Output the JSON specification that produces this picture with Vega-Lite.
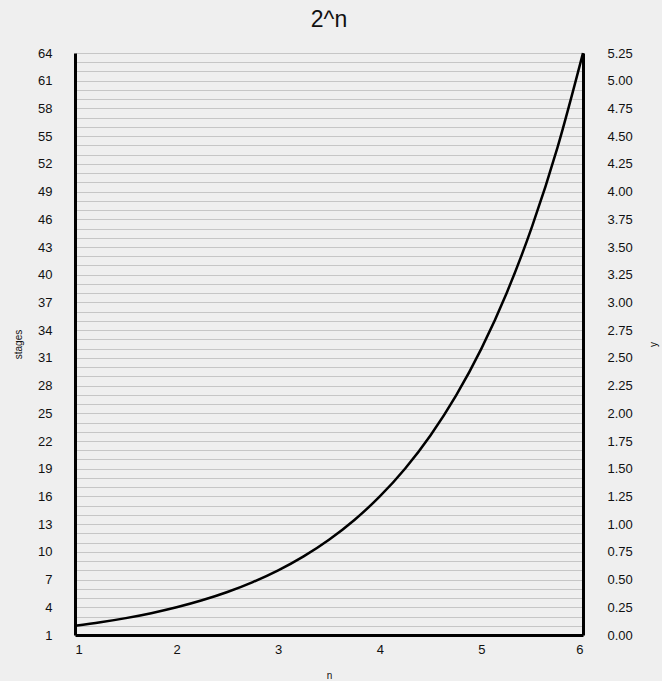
{
  "$schema": "https://vega.github.io/schema/vega-lite/v6.json",
  "width": 508,
  "height": 582,
  "autosize": {"type": "none"},
  "padding": {"left": 75, "top": 53, "right": 79, "bottom": 46},
  "background": "#efefef",
  "config": {
    "view": {"stroke": null},
    "font": "Liberation Sans",
    "axis": {"labelFont": "Liberation Sans", "titleFont": "Liberation Sans", "labelColor": "#111", "titleColor": "#111", "labelFontSize": 13, "titleFontSize": 10, "titleFontWeight": "normal", "ticks": false, "domainColor": "#000", "domainWidth": 3, "labelOverlap": false}
  },
  "title": {"text": "2^n", "fontSize": 23, "fontWeight": "normal", "font": "Liberation Sans", "color": "#111", "offset": 15},
  "datasets": {
    "curve": [
      {"n": 1, "stages": 2},
      {"n": 1.25, "stages": 2.378},
      {"n": 1.5, "stages": 2.828},
      {"n": 1.75, "stages": 3.364},
      {"n": 2, "stages": 4},
      {"n": 2.25, "stages": 4.757},
      {"n": 2.5, "stages": 5.657},
      {"n": 2.75, "stages": 6.727},
      {"n": 3, "stages": 8},
      {"n": 3.25, "stages": 9.514},
      {"n": 3.5, "stages": 11.314},
      {"n": 3.75, "stages": 13.454},
      {"n": 4, "stages": 16},
      {"n": 4.25, "stages": 19.027},
      {"n": 4.5, "stages": 22.627},
      {"n": 4.75, "stages": 26.909},
      {"n": 5, "stages": 32},
      {"n": 5.25, "stages": 38.055},
      {"n": 5.5, "stages": 45.255},
      {"n": 5.75, "stages": 53.817},
      {"n": 6, "stages": 64}
    ],
    "right": [{"n": 1, "y": 0}, {"n": 6, "y": 5.25}]
  },
  "layer": [
    {
      "data": {"name": "curve"},
      "mark": {"type": "line", "color": "#000", "strokeWidth": 2.5, "interpolate": "monotone"},
      "encoding": {
        "x": {"field": "n", "type": "quantitative", "scale": {"domain": [1, 6], "nice": false, "zero": false},
          "axis": {"title": "n", "values": [1, 2, 3, 4, 5, 6], "format": "d", "grid": false, "labelPadding": 8, "titlePadding": 14}},
        "y": {"field": "stages", "type": "quantitative", "scale": {"domain": [1, 64], "nice": false, "zero": false},
          "axis": {"title": "stages", "orient": "left", "values": [1,2,3,4,5,6,7,8,9,10,11,12,13,14,15,16,17,18,19,20,21,22,23,24,25,26,27,28,29,30,31,32,33,34,35,36,37,38,39,40,41,42,43,44,45,46,47,48,49,50,51,52,53,54,55,56,57,58,59,60,61,62,63,64],
            "labelExpr": "(datum.value - 1) % 3 == 0 ? datum.label : ''", "grid": true, "gridColor": "#c6c6c6", "gridWidth": 1.2, "labelPadding": 23, "titlePadding": 14}}
      }
    },
    {
      "data": {"name": "right"},
      "mark": {"type": "point", "opacity": 0},
      "encoding": {
        "x": {"field": "n", "type": "quantitative"},
        "y": {"field": "y", "type": "quantitative", "scale": {"domain": [0, 5.25], "nice": false},
          "axis": {"title": "y", "orient": "right", "titleAngle": 270, "format": ".2f", "values": [0,0.25,0.5,0.75,1,1.25,1.5,1.75,2,2.25,2.5,2.75,3,3.25,3.5,3.75,4,4.25,4.5,4.75,5,5.25], "grid": false, "labelPadding": 24, "titlePadding": 26}}
      }
    }
  ],
  "resolve": {"scale": {"y": "independent"}}
}
